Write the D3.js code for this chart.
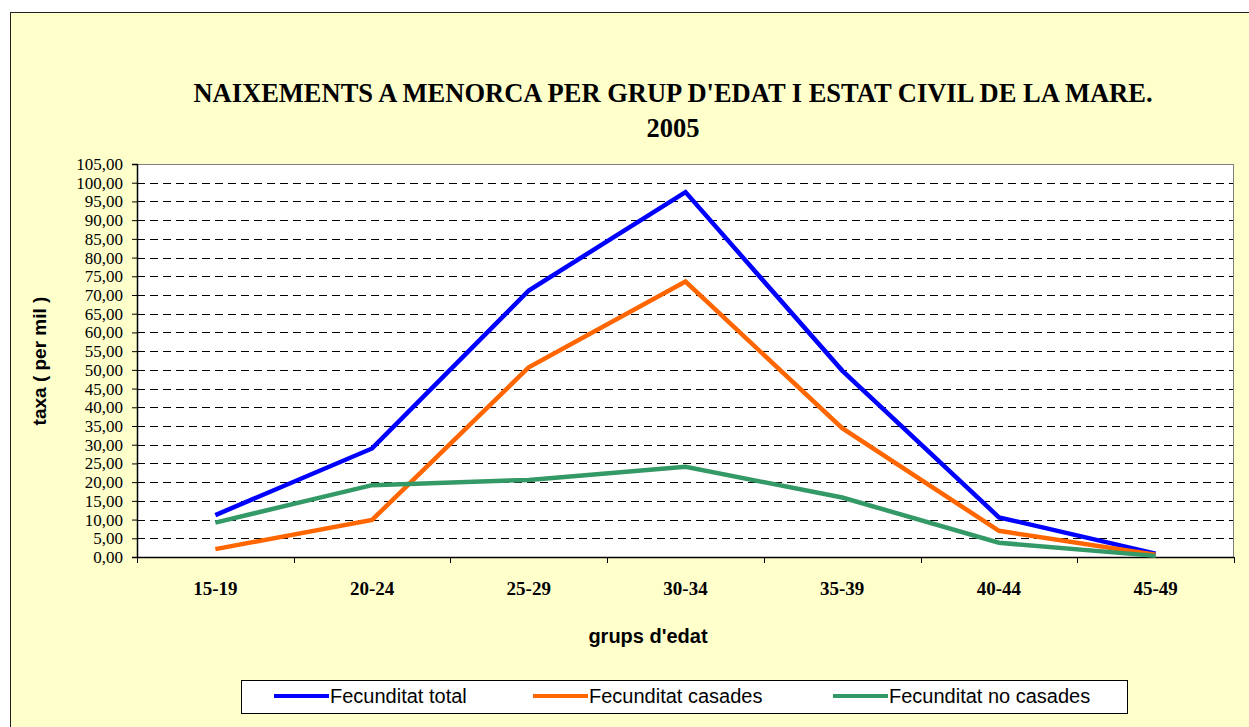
<!DOCTYPE html>
<html><head><meta charset="utf-8">
<script src="https://cdn.jsdelivr.net/npm/d3@7"></script>
<style>html,body{margin:0;padding:0;background:#fff;}svg{display:block;}</style>
</head><body>
<svg id="c" width="1249" height="727"></svg>
<script>
const categories = ["15-19","20-24","25-29","30-34","35-39","40-44","45-49"];
const total = [11.2, 29.0, 71.2, 97.5, 49.8, 10.6, 0.9];
const casades = [2.1, 9.9, 50.7, 73.6, 34.4, 7.0, 0.6];
const noCasades = [9.2, 19.2, 20.6, 24.1, 15.9, 3.8, 0.3];
const seriesNames = ["Fecunditat total","Fecunditat casades","Fecunditat no casades"];
const seriesColors = ["#0000FF","#FF6600","#339966"];
const yTicks = d3.range(0, 106, 5);

const series = [total, casades, noCasades];
const svg = d3.select("#c");
svg.append("rect").attr("x",10.5).attr("y",12.5).attr("width",1250).attr("height",730)
  .attr("fill","#FFFFCC").attr("stroke","#222").attr("stroke-width",1);

const L=137, R=1234, T=164, B=557;
const x = d3.scaleBand().domain(categories).range([L,R]);
const y = d3.scaleLinear().domain([0,105]).range([B,T]);

svg.append("rect").attr("x",L).attr("y",T).attr("width",R-L).attr("height",B-T).attr("fill","#fff");

// gridlines
svg.append("g").selectAll("line").data(yTicks.filter(d=>d>0)).join("line")
  .attr("x1",L).attr("x2",R).attr("y1",d=>Math.round(y(d))+0.5).attr("y2",d=>Math.round(y(d))+0.5)
  .attr("stroke","#000").attr("stroke-width",1).attr("stroke-dasharray","8,5");
// top & right border
svg.append("line").attr("x1",L).attr("x2",R).attr("y1",T+0.5).attr("y2",T+0.5).attr("stroke","#808080");
svg.append("line").attr("x1",R-0.5).attr("x2",R-0.5).attr("y1",T).attr("y2",B).attr("stroke","#808080");

// y axis
const yAxis = d3.axisLeft(y).tickValues(yTicks).tickSize(5).tickPadding(9)
  .tickFormat(d=>d3.format(".2f")(d).replace(".",","));
const gy = svg.append("g").attr("transform",`translate(${L},0)`).call(yAxis);
gy.selectAll("text").attr("font-family","'Liberation Serif','Times New Roman',serif").attr("font-size",17).attr("fill","#000");
gy.selectAll("line,path").attr("stroke","#000");
gy.select(".domain").attr("stroke-width",1.5);

// x axis
svg.append("line").attr("x1",L).attr("x2",R).attr("y1",B+0.5).attr("y2",B+0.5).attr("stroke","#000").attr("stroke-width",1.5);
const bounds = categories.map(c=>x(c)).concat([R]);
svg.append("g").selectAll("line").data(bounds).join("line")
  .attr("x1",d=>Math.round(d)+0.5).attr("x2",d=>Math.round(d)+0.5).attr("y1",B).attr("y2",B+6).attr("stroke","#000");
svg.append("g").selectAll("text").data(categories).join("text")
  .attr("x",d=>x(d)+x.bandwidth()/2).attr("y",595).attr("text-anchor","middle")
  .attr("font-family","'Liberation Serif','Times New Roman',serif").attr("font-weight","bold").attr("font-size",19)
  .text(d=>d);

// lines
const line = d3.line().x((d,i)=>x(categories[i])+x.bandwidth()/2).y(d=>y(d));
series.forEach((s,i)=>{
  svg.append("path").datum(s).attr("d",line).attr("fill","none")
    .attr("stroke",seriesColors[i]).attr("stroke-width",4.5).attr("stroke-linejoin","miter");
});

// titles
const title = svg.append("text").attr("x",673).attr("text-anchor","middle")
  .attr("font-family","'Liberation Serif','Times New Roman',serif").attr("font-weight","bold").attr("font-size",26.5);
title.append("tspan").attr("x",673).attr("y",102).text("NAIXEMENTS A MENORCA PER GRUP D'EDAT I ESTAT CIVIL DE LA MARE.");
title.append("tspan").attr("x",673).attr("y",137).text("2005");

svg.append("text").attr("x",648).attr("y",643).attr("text-anchor","middle")
  .attr("font-family","'Liberation Sans',Arial,sans-serif").attr("font-weight","bold").attr("font-size",20)
  .text("grups d'edat");
svg.append("text").attr("transform","translate(46,361) rotate(-90)").attr("text-anchor","middle")
  .attr("font-family","'Liberation Sans',Arial,sans-serif").attr("font-weight","bold").attr("font-size",19)
  .text("taxa ( per mil )");

// legend
svg.append("rect").attr("x",241.5).attr("y",680.5).attr("width",886).attr("height",33)
  .attr("fill","#fff").attr("stroke","#000");
const lx = [274, 533, 833];
const lg = svg.append("g").selectAll("g").data(seriesNames).join("g");
lg.append("line").attr("x1",(d,i)=>lx[i]).attr("x2",(d,i)=>lx[i]+55).attr("y1",696).attr("y2",696)
  .attr("stroke",(d,i)=>seriesColors[i]).attr("stroke-width",4);
lg.append("text").attr("x",(d,i)=>lx[i]+56).attr("y",703)
  .attr("font-family","'Liberation Sans',Arial,sans-serif").attr("font-size",20).text(d=>d);
</script>
</body></html>
